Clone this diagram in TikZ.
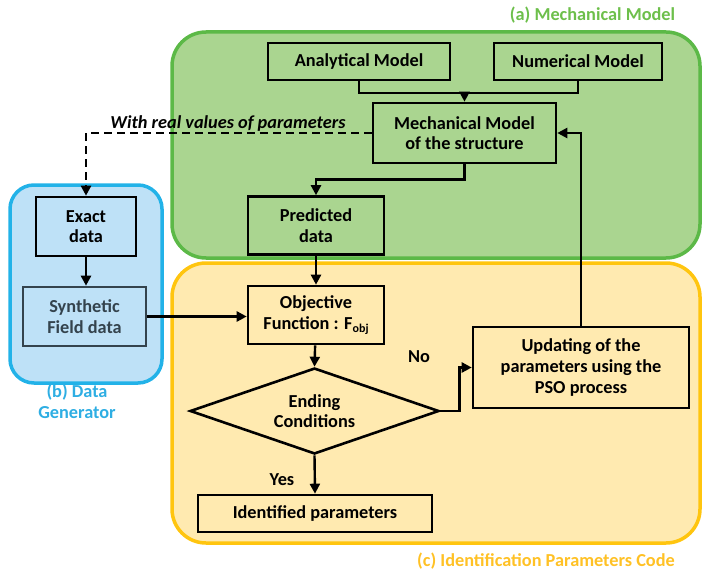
\documentclass[tikz,border=0pt]{standalone}
\usepackage{fontspec}
\setmainfont{Carlito}
\usetikzlibrary{arrows.meta,shapes.geometric}
\definecolor{mgfill}{HTML}{AAD590}
\definecolor{mgline}{HTML}{5CB947}
\definecolor{mgtext}{HTML}{6DBF4B}
\definecolor{idfill}{HTML}{FFEAB0}
\definecolor{idline}{HTML}{FFC50F}
\definecolor{idtext}{HTML}{FFC125}
\definecolor{dgfill}{HTML}{BEE1F7}
\definecolor{dgline}{HTML}{22B2E8}
\definecolor{dgtext}{HTML}{2EAEE3}
\definecolor{slate}{HTML}{34434D}
\tikzset{
  region/.style={line width=3.5pt, rounded corners=34pt},
  stepbox/.style={draw, line width=2.6pt, inner sep=0pt, align=center},
  flow/.style={line width=2.4pt, -{Triangle[length=10pt,width=10pt]}},
  plainline/.style={line width=2.4pt},
  regionlabel/.style={font=\bfseries\fontsize{18.3}{19}\selectfont, align=center}
}
\begin{document}
\begin{tikzpicture}[x=1pt, y=-1pt, font=\bfseries\fontsize{18.3}{20.5}\selectfont]
\useasboundingbox (0,0) rectangle (703,572);

% the three coloured regions
\draw[region, draw=mgline, fill=mgfill] (172,32) rectangle (700,258);
\draw[region, draw=idline, fill=idfill] (172,263) rectangle (700,543);
\draw[region, draw=dgline, fill=dgfill, rounded corners=24pt] (10,185) rectangle (162,383);

\node[regionlabel, text=mgtext] (lblA) at (592.5,15) {(a) Mechanical Model};
\node[regionlabel, text=idtext] (lblC) at (546,561) {(c) Identification Parameters Code};
\node[regionlabel, text=dgtext, font=\bfseries\fontsize{18.3}{21}\selectfont] (lblB) at (77,401.5) {(b) Data\\Generator};

% mechanical model
\node[stepbox, minimum width=182pt, minimum height=37pt] (anal) at (359,61.5) {Analytical Model};
\node[stepbox, minimum width=168pt, minimum height=37pt] (num) at (578,61.5) {Numerical Model};
\node[stepbox, minimum width=183pt, minimum height=60pt] (mech) at (464.5,133) {Mechanical Model\\of the structure};
\node[stepbox, minimum width=136pt, minimum height=58pt] (pred) at (316,225.5) {Predicted\\data};

% identification code
\node[stepbox, minimum width=136pt, minimum height=58pt] (obj) at (316,315)
  {Objective\\Function : F\raisebox{-0.35ex}{\fontsize{12}{13}\selectfont obj}};
\node[draw, diamond, line width=2.6pt, inner sep=0pt, align=center, aspect=2.9,
      minimum width=249pt, minimum height=86pt] (cond) at (314.5,411) {Ending\\Conditions};
\node[stepbox, minimum width=216pt, minimum height=81pt, font=\bfseries\fontsize{18.3}{21}\selectfont] (upd) at (581,367.5)
  {Updating of the\\parameters using the\\PSO process};
\node[stepbox, minimum width=234pt, minimum height=37pt] (ident) at (315,513.5) {Identified parameters};

% data generator
\node[stepbox, minimum width=100pt, minimum height=59pt] (exact) at (86,226.5) {Exact\\data};
\node[stepbox, draw=slate, text=slate, minimum width=123pt, minimum height=59pt] (synth) at (84.5,316.5)
  {Synthetic\\Field data};

% connectors
\draw[plainline] (anal.south) -- ++(0,12) coordinate (join) -| (num.south);
\draw[flow] (join -| mech.north) -- (mech.north);
\draw[flow] (mech.south) -- ++(0,15) -| (pred.north);
\draw[flow] (pred) -- (obj);
\draw[flow] (obj) -- (cond.north);
\draw[flow] (cond.east) -- ++(19,0) |- (upd.west);
\draw[flow] (upd.north) |- (mech.east);
\draw[flow] (cond.south) -- (ident.north);
\draw[flow] (exact.south) -- (exact.south |- synth.north);
\draw[flow] (synth.east) -- (synth.east -| obj.west);
\draw[flow, dashed, dash pattern=on 8pt off 5pt] (mech.west) -| (exact.north);

\node[font=\bfseries\itshape\fontsize{18.3}{20}\selectfont, anchor=base] (real) at (228,129) {With real values of parameters};
\node (no) at (419,357) {No};
\node (yes) at (282,480) {Yes};
\end{tikzpicture}
\end{document}
